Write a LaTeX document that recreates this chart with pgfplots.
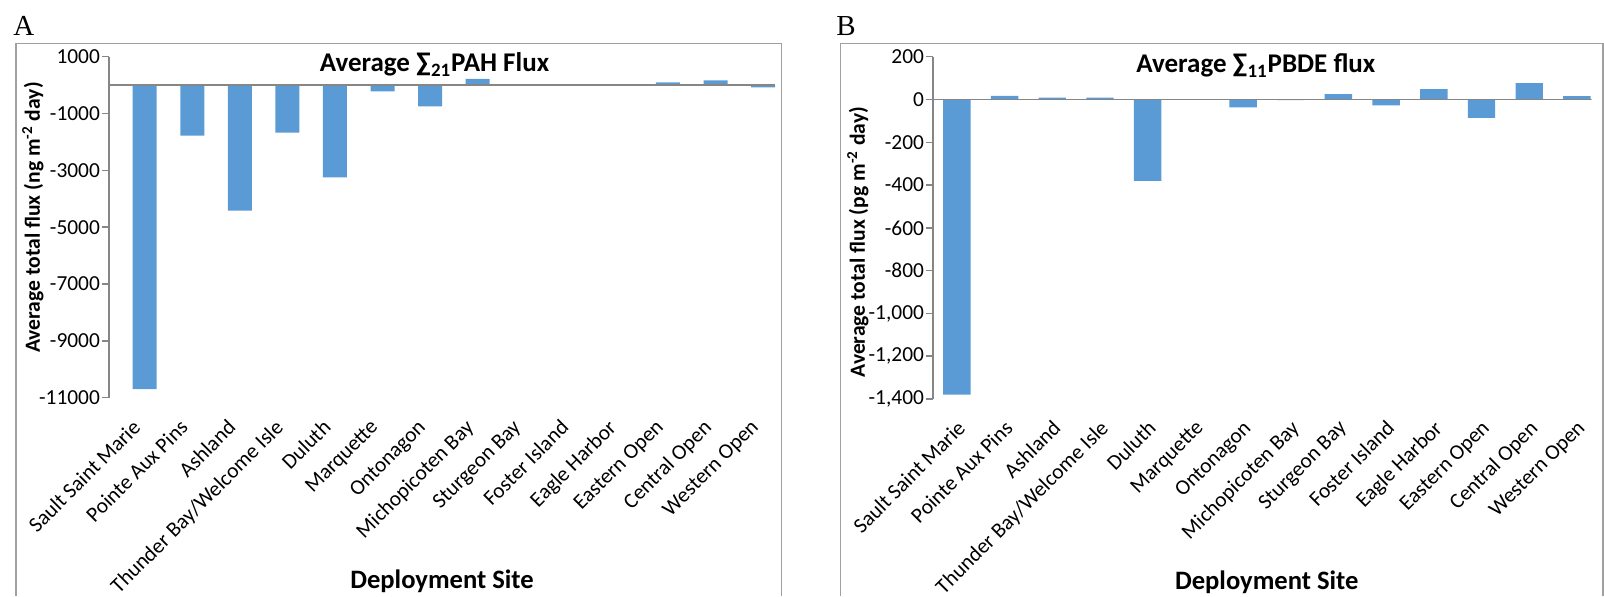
\documentclass[border=0pt]{standalone}
\usepackage{fontspec}
\setmainfont{Carlito}
\newfontfamily\timesfont{Liberation Serif}
\usepackage{pgfplots}
\pgfplotsset{compat=1.18}
\definecolor{barblue}{RGB}{91,155,213}
\definecolor{axgray}{RGB}{134,134,134}
\definecolor{framegray}{RGB}{160,160,160}

\pgfplotsset{
  myax/.style={
    scale only axis, ybar, enlargelimits=false,
    scaled y ticks=false,
    axis lines*=left,
    x axis line style={draw=none},
    y axis line style={draw=axgray, line width=0.75pt},
    tick align=outside, major tick length=3.5pt,
    ytick style={draw=axgray, line width=0.75pt},
    xtick style={draw=none},
    xtick={0,...,13},
    xticklabels={Sault Saint Marie, Pointe Aux Pins, Ashland, Thunder Bay/Welcome Isle, Duluth, Marquette, Ontonagon, Michopicoten Bay, Sturgeon Bay, Foster Island, Eagle Harbor, Eastern Open, Central Open, Western Open},
    ticklabel style={font=\fontsize{10.7}{12.5}\selectfont},
    yticklabel style={anchor=east, xshift=2.5pt},
    title style={font=\fontsize{13.5}{15}\selectfont\bfseries, anchor=base},
    xlabel style={font=\fontsize{13.3}{15}\selectfont\bfseries, anchor=base},
    ylabel style={font=\fontsize{10.8}{12}\selectfont\bfseries, anchor=base},
    xlabel={Deployment Site},
  }
}

\begin{document}
\begin{tikzpicture}[x=0.5pt,y=-0.5pt]
\useasboundingbox (0,0) rectangle (1604,596);
\draw[framegray, line width=0.75pt] (16,596) -- (16,43.7) -- (781.7,43.7) -- (781.7,596);
\draw[framegray, line width=0.75pt] (840.3,596) -- (840.3,43.7) -- (1603,43.7) -- (1603,596);
\node[font=\timesfont\fontsize{14.5}{16}\selectfont, anchor=base west, inner sep=0pt] at (13,35) {A};
\node[font=\timesfont\fontsize{14.5}{16}\selectfont, anchor=base west, inner sep=0pt] at (836,35) {B};

% Panel A
\begin{axis}[myax,
  at={(54.5pt,-198.85pt)}, anchor=south west,
  width=333pt, height=170.5pt,
  xmin=-0.75, xmax=13.25, ymin=-11000, ymax=1000,
  bar width=12pt,
  ytick={-11000,-9000,-7000,-5000,-3000,-1000,1000},
  yticklabels={-11000,-9000,-7000,-5000,-3000,-1000,1000},
  xticklabel style={xshift=-6.75pt, yshift=-6.6pt, rotate=45, anchor=north east, inner sep=0pt},
  title={Average ∑\textsubscript{21}PAH Flux},
  title style={at={(rel axis cs:0.5,1)}, xshift=-3.75pt, yshift=-13.5pt},
  xlabel style={at={(rel axis cs:0.5,0)}, yshift=-95.6pt},
  ylabel={Average total flux (ng m\textsuperscript{-2} day)},
  ylabel style={at={(rel axis cs:-0.1036,0.5284)}},
]
\addplot[fill=barblue, draw=none] coordinates {
(0,-10700) (1,-1780) (2,-4420) (3,-1670) (4,-3245) (5,-220) (6,-750)
(7,220) (8,25) (9,0) (10,0) (11,95) (12,165) (13,-80)};
\draw[axgray, line width=0.75pt] (axis cs:-0.75,0) -- (axis cs:13.25,0);
\end{axis}

% Panel B
\begin{axis}[myax,
  at={(466.5pt,-199.5pt)}, anchor=south west,
  width=329.35pt, height=171.15pt,
  xmin=-0.5, xmax=13.31, ymin=-1400, ymax=200,
  bar width=13.7pt,
  ytick={-1400,-1200,-1000,-800,-600,-400,-200,0,200},
  yticklabels={{-1,400},{-1,200},{-1,000},-800,-600,-400,-200,0,200},
  xticklabel style={xshift=-0.5pt, yshift=-6.35pt, rotate=45, anchor=north east, inner sep=0pt},
  title={Average ∑\textsubscript{11}PBDE flux},
  title style={at={(rel axis cs:0.5,1)}, xshift=-3.25pt, yshift=-14pt},
  xlabel style={at={(rel axis cs:0.5,0)}, xshift=2.2pt, yshift=-95pt},
  ylabel={Average total flux (pg m\textsuperscript{-2} day)},
  ylabel style={at={(rel axis cs:-0.1033,0.458)}},
]
\addplot[fill=barblue, draw=none] coordinates {
(0,-1380) (1,17) (2,9) (3,9) (4,-380) (5,0) (6,-37)
(7,-3) (8,25) (9,-28) (10,48) (11,-86) (12,76) (13,16)};
\draw[axgray, line width=0.75pt] (axis cs:-0.5,0) -- (axis cs:13.31,0);
\end{axis}
\end{tikzpicture}
\end{document}
